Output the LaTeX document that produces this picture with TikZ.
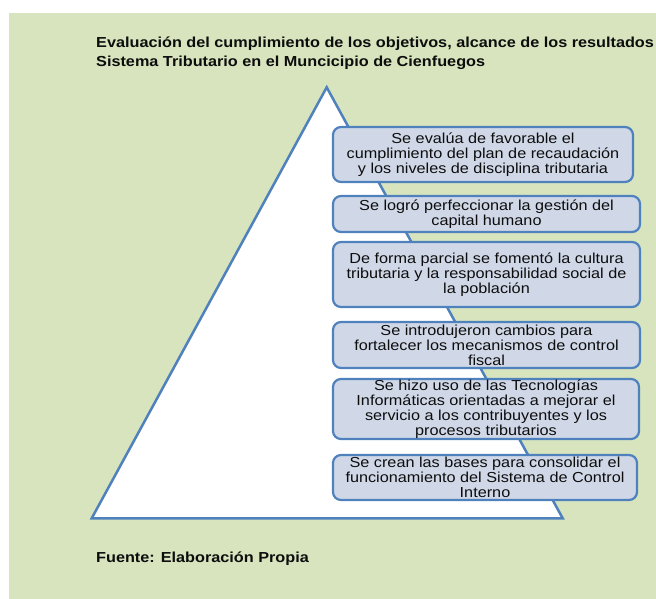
\documentclass[tikz,border=0pt]{standalone}
\usepackage{fontspec}
\setmainfont{Liberation Sans}[FakeStretch=1.12]
\usetikzlibrary{positioning}
\definecolor{mGreen}{HTML}{D7E4BD}
\definecolor{mBlue}{HTML}{4F81BD}
\definecolor{mPale}{HTML}{D0D8E8}
\definecolor{mInk}{HTML}{0D0D0D}

\begin{document}
\begin{tikzpicture}[x=1pt, y=-1pt,
  logro/.style={draw=mBlue, line width=2.2pt, fill=mPale, rounded corners=8pt,
    inner sep=0pt, align=center, text=mInk, font=\fontsize{14.5}{15}\selectfont},
  caption/.style={font=\bfseries\fontsize{14.5}{19}\selectfont, text=mInk,
    inner sep=0pt, align=left}]
  \useasboundingbox (0,0) rectangle (656,599);
  % fondo verde
  \fill[mGreen] (9,13) rectangle (656,599);
  \node[caption, anchor=base west] (titulo) at (96,66.5)
    {Evaluación del cumplimiento de los objetivos, alcance de los resultados\\
     Sistema Tributario en el Muncicipio de Cienfuegos};
  % piramide
  \draw[mBlue, line width=2.5pt, fill=white] (326.7,87.3) -- (562.7,518.3)
    -- (91.7,518.3) -- cycle;
  \node[logro, minimum width=300pt, minimum height=55pt] (l1) at (483,154.5)
    {Se evalúa de favorable el\\ cumplimiento del plan de recaudación\\
     y los niveles de disciplina tributaria};
  \node[logro, minimum width=307pt, minimum height=36pt] (l2) at (486.5,214)
    {Se logró perfeccionar la gestión del\\ capital humano};
  \node[logro, minimum width=307pt, minimum height=65pt] (l3) at (486.5,274.5)
    {De forma parcial se fomentó la cultura\\ tributaria y la responsabilidad social de\\
     la población};
  \node[logro, minimum width=307pt, minimum height=46pt] (l4) at (486.5,345)
    {Se introdujeron cambios para\\ fortalecer los mecanismos de control\\ fiscal};
  \node[logro, minimum width=306pt, minimum height=60pt] (l5) at (486,409)
    {Se hizo uso de las Tecnologías\\ Informáticas orientadas a mejorar el\\
     servicio a los contribuyentes y los\\ procesos tributarios};
  \node[logro, minimum width=304pt, minimum height=45pt] (l6) at (485,477.5)
    {Se crean las bases para consolidar el\\ funcionamiento del Sistema de Control\\
     Interno};
  \node[caption, anchor=base west] (fuente) at (96,562.5) {Fuente: Elaboración Propia};
\end{tikzpicture}
\end{document}
